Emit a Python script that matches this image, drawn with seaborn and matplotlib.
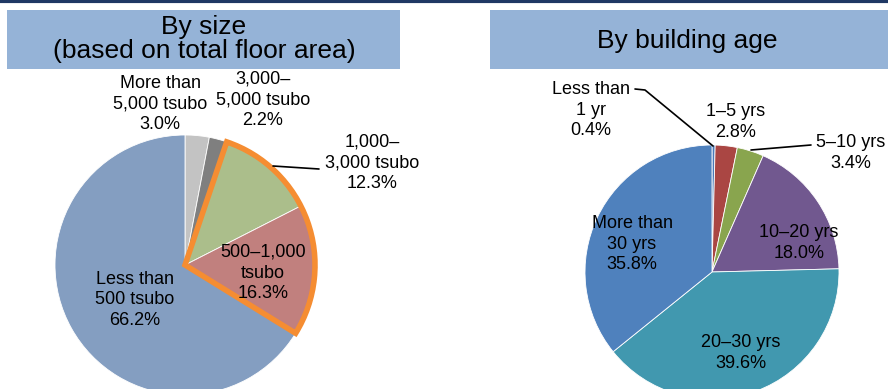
import matplotlib
matplotlib.use("Agg")
import matplotlib.pyplot as plt
from matplotlib.patches import Rectangle, Wedge
import seaborn as sns

# by size (based on total floor area)
size_labels = ["More than\n5,000 tsubo", "3,000–\n5,000 tsubo", "1,000–\n3,000 tsubo",
               "500–1,000\ntsubo", "Less than\n500 tsubo"]
size_values = [3.0, 2.2, 12.3, 16.3, 66.2]
size_colors = ["#c3c3c3", "#7f7f7f", "#abbe8b", "#c1807e", "#849ec1"]

# by building age
age_labels = ["Less than\n1 yr", "1–5 yrs", "5–10 yrs", "10–20 yrs", "20–30 yrs",
              "More than\n30 yrs"]
age_values = [0.4, 2.8, 3.4, 18.0, 39.6, 35.8]
age_colors = ["#4a7ab8", "#aa4643", "#89a54e", "#71588f", "#4198af", "#4f81bd"]

sns.set_style("white")
plt.rcParams["font.family"] = ["Liberation Sans", "DejaVu Sans"]
plt.rcParams["text.color"] = "black"

fig = plt.figure(figsize=(8.88, 3.89), dpi=100)
ax = fig.add_axes([0, 0, 1, 1])

# pies (coordinates in pixels, y up)
ax.pie(size_values, colors=size_colors, startangle=90, counterclock=False,
       center=(185, 124), radius=130, frame=True,
       wedgeprops=dict(edgecolor="white", linewidth=0.6))
ax.pie(age_values, colors=age_colors, startangle=90, counterclock=False,
       center=(712, 117), radius=127, frame=True,
       wedgeprops=dict(edgecolor="white", linewidth=0.6))

# orange outline around 500-3,000 tsubo slices
start = sum(size_values[:2])
end = sum(size_values[:4])
ax.add_patch(Wedge((185, 124), 130, 90 - end * 3.6, 90 - start * 3.6,
                   fill=False, edgecolor="#f58d32", linewidth=4, zorder=5))

ax.set_xlim(0, 888)
ax.set_ylim(0, 389)
ax.set_aspect("auto")
ax.axis("off")

# title boxes
ax.add_patch(Rectangle((7, 320), 393, 59, facecolor="#95b3d7", edgecolor="none", zorder=0))
ax.add_patch(Rectangle((490, 320), 398, 59, facecolor="#95b3d7", edgecolor="none", zorder=0))
ax.plot([0, 888], [388, 388], color="#1f3864", lw=3, solid_capstyle="butt")
ax.text(204, 350, "By size\n(based on total floor area)", ha="center", va="center",
        fontsize=19, linespacing=0.98)
ax.text(687, 348, "By building age", ha="center", va="center", fontsize=19)

# slice labels
fs = 13
ls = 1.3
size_pos = [(160, 285), (263, 289), (372, 226), (263, 116), (135, 89)]
for lab, v, (x, y) in zip(size_labels, size_values, size_pos):
    ax.text(x, y, f"{lab}\n{v:.1f}%", ha="center", va="center", fontsize=fs,
            linespacing=ls, zorder=6)

age_pos = [(591, 279), (736, 267), (851, 236), (799, 146), (741, 36), (632, 145)]
for lab, v, (x, y) in zip(age_labels, age_values, age_pos):
    ax.text(x, y, f"{lab}\n{v:.1f}%", ha="center", va="center", fontsize=fs,
            linespacing=ls, zorder=6)

# leader lines
ax.plot([273, 319], [223, 220], color="black", lw=1.2, zorder=6)
ax.plot([635, 645, 713], [300, 299, 243], color="black", lw=1.2, zorder=6)
ax.plot([751, 811], [239, 244], color="black", lw=1.2, zorder=6)

fig.savefig("out.png", dpi=100)
